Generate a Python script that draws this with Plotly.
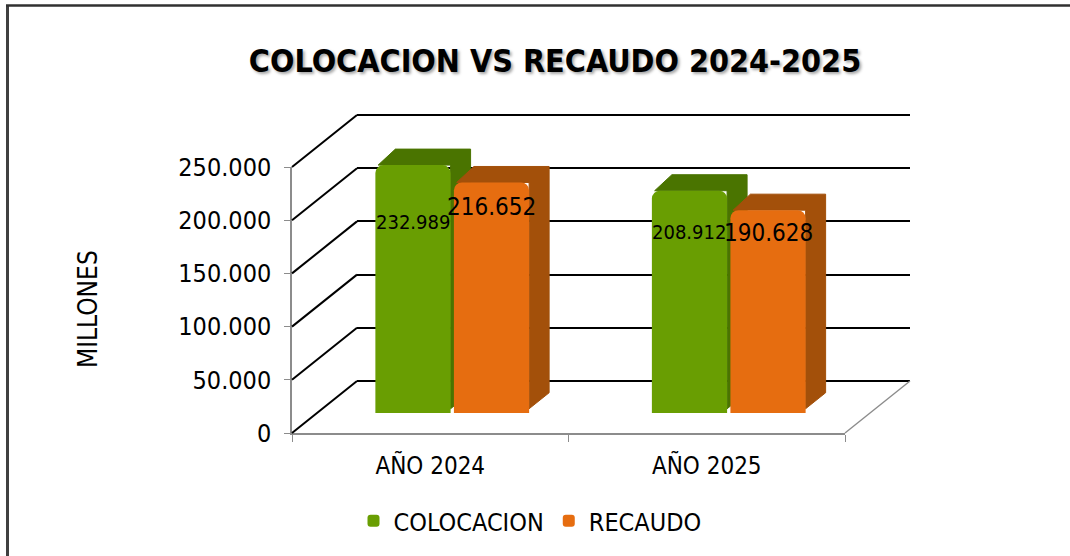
import plotly.graph_objects as go

# ---------------- data ----------------
categories = ["AÑO 2024", "AÑO 2025"]
colocacion = [232989, 208912]
recaudo = [216652, 190628]
series_names = ["COLOCACION", "RECAUDO"]
y_ticks = [0, 50000, 100000, 150000, 200000, 250000]
title_text = "COLOCACION VS RECAUDO 2024-2025"
y_title = "MILLONES"

# ---------------- geometry (pixels) ----------------
W, H = 1070, 556
FX0, FX1, FY0, FY1 = 292, 845, 433, 167      # front plane box (value 0 .. max)
BACK_DX, BACK_DY = 65, 52                      # back wall offset
BAR_DX, BAR_DY = 22, 20                        # bar plane offset
DEP_DX, DEP_DY = 20, 16                        # bar extrusion depth
YMAX = 250000
PADPX = 4                                      # keeps edge gridlines drawn
FONT = "DejaVu Sans Condensed, Liberation Sans Narrow, Arial Narrow, sans-serif"

GREEN, GREEN_D = "#699e02", "#4a7400"
ORANGE, ORANGE_D = "#e66d10", "#a3500a"


def px(x):
    return x / W


def py(y):
    return (H - y) / H


def xdom(dx):
    return [px(FX0 + dx), px(FX1 + dx)]


def ydom(dy, pad=0):
    return [py(FY0 - dy + pad), py(FY1 - dy - pad)]


val_per_px = YMAX / (FY0 - FY1)
PADV = PADPX * val_per_px

fig = go.Figure()

# front axes (tick labels)
fig.add_trace(go.Scatter(x=categories, y=[None, None], xaxis="x", yaxis="y",
                         mode="markers", showlegend=False, hoverinfo="skip"))
# back wall (gridlines)
fig.add_trace(go.Scatter(x=[0, 1], y=[None, None], xaxis="x2", yaxis="y2",
                         mode="markers", showlegend=False, hoverinfo="skip"))

# bar layout in category units
half_w = 0.136
gap = 0.006
centers = {0: -gap - half_w, 1: gap + half_w}
unit_px = (FX1 - FX0) / 2.0
dxu = DEP_DX / unit_px
dyu = DEP_DY * val_per_px

series = [(colocacion, GREEN, GREEN_D), (recaudo, ORANGE, ORANGE_D)]

# extrusion (top + side faces)
for si, (vals, col, dcol) in enumerate(series):
    for i, v in enumerate(vals):
        c = i + centers[si]
        xl, xr = c - half_w, c + half_w
        xs = [xl + 0.01, xl + dxu, xr + dxu, xr + dxu, xr, xr, xl + 0.01]
        ys = [v, v + dyu, v + dyu, dyu + 4000, 4000, v, v]
        fig.add_trace(go.Scatter(x=xs, y=ys, xaxis="x3", yaxis="y3", mode="lines",
                                 fill="toself", fillcolor=dcol,
                                 line=dict(color=dcol, width=1),
                                 showlegend=False, hoverinfo="skip"))

# front faces
for si, (vals, col, dcol) in enumerate(series):
    fig.add_trace(go.Bar(x=list(range(len(categories))), y=vals, name=series_names[si],
                         xaxis="x4", yaxis="y4", width=2 * half_w,
                         offset=centers[si] - half_w,
                         marker=dict(color=col, line=dict(width=0), cornerradius=8)))

# labels
label_shift = [[57, 41], [25, 23]]
label_size = [20, 24]
ann = []
for si, (vals, col, dcol) in enumerate(series):
    for i, v in enumerate(vals):
        ann.append(dict(x=i + centers[si], y=v, xref="x4", yref="y4",
                        text=f"{v:,}".replace(",", "."), showarrow=False,
                        yshift=-label_shift[si][i], xanchor="center", yanchor="middle",
                        font=dict(family=FONT, size=label_size[si], color="#000")))

ann.append(dict(x=px(88), y=py(309), xref="paper", yref="paper", text=y_title,
                textangle=-90, showarrow=False, xanchor="center", yanchor="middle",
                font=dict(family=FONT, size=26, color="#000")))

# side wall and floor edges
shapes = []
for v in y_ticks:
    yf = FY0 - v / val_per_px
    shapes.append(dict(type="line", xref="paper", yref="paper",
                       x0=px(FX0), y0=py(yf), x1=px(FX0 + BACK_DX), y1=py(yf - BACK_DY),
                       line=dict(color="#000", width=2)))
shapes.append(dict(type="line", xref="paper", yref="paper",
                   x0=px(FX1), y0=py(FY0), x1=px(FX1 + BACK_DX), y1=py(FY0 - BACK_DY),
                   line=dict(color="#8c8c8c", width=1.5)))
# chart border
shapes.append(dict(type="line", xref="paper", yref="paper",
                   x0=px(7.5), y0=py(5), x1=px(7.5), y1=0,
                   line=dict(color="#404040", width=3)))
shapes.append(dict(type="line", xref="paper", yref="paper",
                   x0=px(6), y0=py(5.5), x1=1, y1=py(5.5),
                   line=dict(color="#303030", width=2.5)))

hidden = dict(visible=False, showgrid=False, zeroline=False, fixedrange=True,
              automargin=False)

fig.update_layout(
    width=W, height=H, autosize=False,
    margin=dict(l=0, r=0, t=0, b=0, pad=0, autoexpand=False),
    paper_bgcolor="white", plot_bgcolor="rgba(0,0,0,0)",
    separators=",.",
    barmode="overlay",
    title=dict(text=f"<b>{title_text}</b>", x=px(555), xanchor="center",
               y=py(61), yanchor="middle", automargin=False,
               font=dict(family=FONT, size=32, color="#000",
                         shadow="2px 2px 3px rgba(0,0,0,0.35)")),
    xaxis=dict(domain=xdom(0), anchor="y", type="category", automargin=False,
               categoryorder="array", categoryarray=categories, range=[-0.5, 1.5],
               showline=True, linecolor="#8c8c8c", linewidth=1.5,
               ticks="outside", tickson="boundaries", ticklen=7, tickcolor="#8c8c8c",
               ticklabelstandoff=10,
               tickfont=dict(family=FONT, size=24, color="#000"),
               showgrid=False, zeroline=False),
    yaxis=dict(domain=ydom(0), anchor="x", range=[0, YMAX], tickvals=y_ticks,
               automargin=False,
               tickformat=",d", showline=True, linecolor="#8c8c8c", linewidth=1.5,
               ticks="outside", ticklen=6, tickcolor="#8c8c8c",
               ticklabelstandoff=8,
               tickfont=dict(family=FONT, size=25, color="#000"),
               showgrid=False, zeroline=False),
    xaxis2=dict(domain=xdom(BACK_DX), anchor="y2", range=[-0.5, 1.5], **hidden),
    yaxis2=dict(domain=ydom(BACK_DY, PADPX), anchor="x2", range=[-PADV, YMAX + PADV],
                tickvals=y_ticks, automargin=False,
                showgrid=True, gridcolor="#000", gridwidth=2, showticklabels=False,
                ticks="", zeroline=False, showline=False, fixedrange=True),
    xaxis3=dict(domain=xdom(BAR_DX), anchor="y3", range=[-0.5, 1.5], **hidden),
    yaxis3=dict(domain=ydom(BAR_DY), anchor="x3", range=[0, YMAX], **hidden),
    xaxis4=dict(domain=xdom(BAR_DX), anchor="y4", range=[-0.5, 1.5], **hidden),
    yaxis4=dict(domain=ydom(BAR_DY), anchor="x4", range=[0, YMAX], **hidden),
    legend=dict(orientation="h", x=px(530), xanchor="center", y=py(521), yanchor="middle",
                font=dict(family=FONT, size=25, color="#000"),
                itemwidth=30, tracegroupgap=0, bgcolor="rgba(0,0,0,0)"),
    annotations=ann,
    shapes=shapes,
    showlegend=True,
)

fig.write_html("out.html", config={"displayModeBar": False},
               post_script="document.body.style.margin='0';")
